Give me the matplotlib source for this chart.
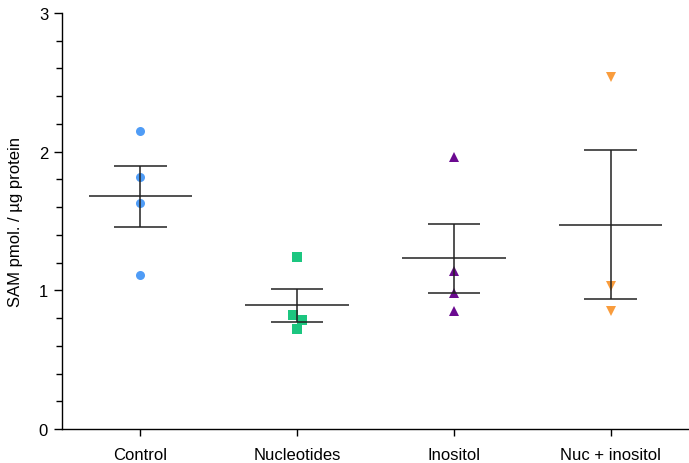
import numpy as np
import matplotlib.pyplot as plt
from matplotlib.ticker import MultipleLocator

plt.rcParams['font.family'] = ['Liberation Sans', 'DejaVu Sans']

groups = ["Control", "Nucleotides", "Inositol", "Nuc + inositol"]
control = [2.15, 1.82, 1.63, 1.11]
nucleotides = [1.24, 0.82, 0.79, 0.72]
inositol = [1.96, 1.14, 0.98, 0.85]
nuc_inositol = [2.54, 1.03, 0.85]
values = [control, nucleotides, inositol, nuc_inositol]

# horizontal scatter offsets (GraphPad-style spreading of overlapping points)
jitter = [[0, 0, 0, 0], [0, -0.025, 0.028, 0], [0, 0, 0, 0], [0, 0, 0]]

colors = ["#4f9cf6", "#1cc680", "#6b0a90", "#f99c3c"]
markers = ["o", "s", "^", "v"]
msizes = [6.5, 6.5, 7, 7]

fig = plt.figure(figsize=(6.89, 4.64), dpi=100)
ax = fig.add_axes([0.09, 0.073, 0.91, 0.897])

for i, vals in enumerate(values):
    v = np.array(vals)
    x = i + np.array(jitter[i])
    ax.plot(x, v, linestyle="none", marker=markers[i], color=colors[i],
            markersize=msizes[i], markeredgewidth=0, zorder=2)
    m = v.mean()
    sem = v.std(ddof=1) / np.sqrt(len(v))
    ax.hlines(m, i - 0.33, i + 0.33, color="#222222", linewidth=1.1, zorder=3)
    ax.errorbar(i, m, yerr=sem, fmt="none", ecolor="#222222", elinewidth=1.1,
                capsize=0, zorder=3)
    ax.hlines([m - sem, m + sem], i - 0.167, i + 0.167, color="#222222",
              linewidth=1.1, zorder=3)

ax.set_xlim(-0.5, 3.5)
ax.set_ylim(0, 3)
ax.set_xticks(range(len(groups)))
ax.set_xticklabels(groups, fontsize=12)
ax.yaxis.set_major_locator(MultipleLocator(1))
ax.yaxis.set_minor_locator(MultipleLocator(0.2))
ax.tick_params(axis="y", which="major", length=6, width=1, labelsize=12, pad=4)
ax.tick_params(axis="y", which="minor", length=4, width=1)
ax.tick_params(axis="x", length=5, width=1, pad=8)
ax.set_ylabel("SAM pmol. / µg protein", fontsize=12, labelpad=11)

ax.spines["top"].set_visible(False)
ax.spines["right"].set_visible(False)
ax.spines["left"].set_linewidth(1)
ax.spines["bottom"].set_linewidth(1)

fig.savefig("out.png", dpi=100)
plt.close(fig)
